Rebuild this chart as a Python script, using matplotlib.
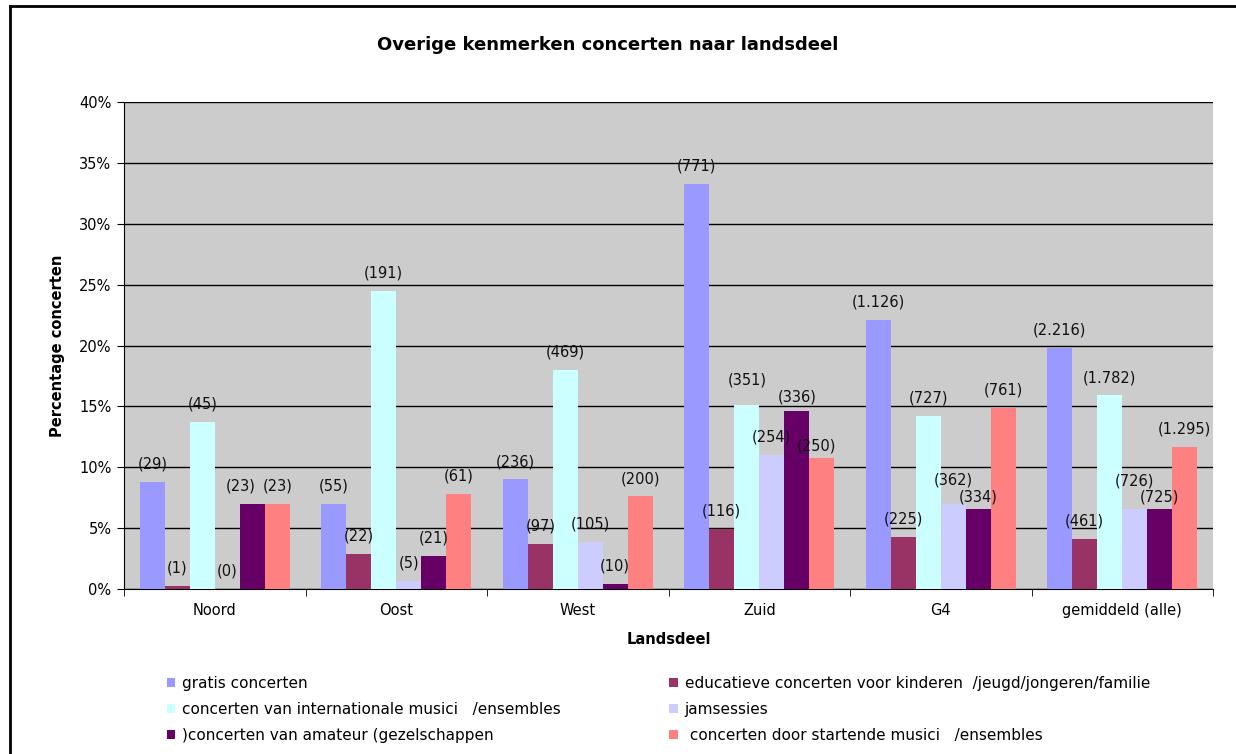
import numpy as np
import matplotlib
matplotlib.use("Agg")
import matplotlib.pyplot as plt
from matplotlib.lines import Line2D
from matplotlib.patches import Patch

plt.rcParams['font.family'] = ['DejaVu Sans']

regios = ['Noord', 'Oost', 'West', 'Zuid', 'G4', 'gemiddeld (alle)']

series = [
    'gratis concerten',
    'educatieve concerten voor kinderen  /jeugd/jongeren/familie',
    'concerten van internationale musici   /ensembles',
    'jamsessies',
    ')concerten van amateur (gezelschappen',
    ' concerten door startende musici   /ensembles',
]
kleuren = ['#9999FF', '#993366', '#CCFFFF', '#CCCCFF', '#660066', '#FF8080']

# percentages per landsdeel, een rij per soort concert
pct = [
    [8.8, 7.0, 9.0, 33.3, 22.1, 19.8],
    [0.25, 2.9, 3.7, 4.9, 4.3, 4.1],
    [13.7, 24.5, 18.0, 15.1, 14.2, 15.9],
    [0.0, 0.65, 3.9, 11.0, 7.0, 6.6],
    [7.0, 2.7, 0.4, 14.6, 6.6, 6.6],
    [7.0, 7.8, 7.6, 10.8, 14.9, 11.7],
]
# aantallen concerten (tussen haakjes boven de staven)
aantallen = [
    ['29', '55', '236', '771', '1.126', '2.216'],
    ['1', '22', '97', '116', '225', '461'],
    ['45', '191', '469', '351', '727', '1.782'],
    ['0', '5', '105', '254', '362', '726'],
    ['23', '21', '10', '336', '334', '725'],
    ['23', '61', '200', '250', '761', '1.295'],
]

# labels die elkaar anders raken wat verschuiven: (serie, regio) -> (dx, dy) in punten
verschuif = {
    (4, 0): (-8, 0),
    (2, 3): (0, 5),
    (4, 3): (0, -3),
    (5, 3): (-4, -4.5),
    (3, 4): (0, 4.5),
    (4, 4): (0, -4.5),
    (3, 5): (0, 7),
    (4, 5): (0, -4.5),
}

W, H = 1236, 754
fig = plt.figure(figsize=(W / 100, H / 100), dpi=100)
fig.patch.set_facecolor('white')

ax = fig.add_axes([124 / W, (H - 589) / H, (1213 - 124) / W, 487 / H])
ax.set_facecolor('#CCCCCC')

x = np.arange(len(regios))
bw = 0.1377
for i in range(len(series)):
    pos = x + (i - 2.5) * bw
    bars = ax.bar(pos, pct[i], width=bw, color=kleuren[i], edgecolor='none', zorder=3)
    for j, (b, n) in enumerate(zip(bars, aantallen[i])):
        dx, dy = verschuif.get((i, j), (0, 0))
        ax.annotate('(%s)' % n, (b.get_x() + b.get_width() / 2, b.get_height()),
                    xytext=(dx, 7.5 + dy), textcoords='offset points',
                    ha='center', va='bottom', fontsize=10.5, color='#111111', zorder=4)

ax.set_xlim(-0.5, len(regios) - 0.5)
ax.set_ylim(0, 40)
ax.set_yticks(np.arange(0, 41, 5))
ax.set_yticklabels(['%d%%' % v for v in range(0, 41, 5)], fontsize=10.5)
ax.yaxis.grid(True, color='black', linewidth=1, zorder=1)
ax.set_axisbelow(True)

ax.set_xticks(x)
ax.set_xticklabels(regios, fontsize=10.5)
ax.set_xticks(np.arange(-0.5, len(regios), 1), minor=True)
ax.tick_params(axis='x', which='major', length=0, pad=10)
ax.tick_params(axis='x', which='minor', length=5, direction='out', color='black')
ax.tick_params(axis='y', length=5, direction='out', color='black', pad=4)

for s in ['top', 'right']:
    ax.spines[s].set_visible(False)
ax.spines['left'].set_color('black')
ax.spines['bottom'].set_color('black')

ax.set_ylabel('Percentage concerten', fontsize=10.5, fontweight='bold', labelpad=10)
ax.set_xlabel('Landsdeel', fontsize=10.5, fontweight='bold', labelpad=10)

fig.text(608 / W, 1 - 45 / H, 'Overige kenmerken concerten naar landsdeel',
         ha='center', va='center', fontsize=13, fontweight='bold')

# legenda: rijgewijs vullen, matplotlib vult kolomsgewijs
volgorde = [0, 2, 4, 1, 3, 5]
handles = [Patch(facecolor=kleuren[i], edgecolor='none') for i in volgorde]
labels = [series[i] for i in volgorde]
fig.legend(handles, labels, ncol=2, loc='upper left',
           bbox_to_anchor=(153 / W, 1 - 662 / H), frameon=False,
           fontsize=11, handlelength=0.55, handleheight=0.55, handletextpad=0.45,
           labelspacing=0.72, columnspacing=7.1)

# kader rond de figuur
fig.add_artist(Line2D([10 / W, 10 / W], [0, 1 - 6 / H], color='black', linewidth=2,
                      transform=fig.transFigure))
fig.add_artist(Line2D([10 / W, 1], [1 - 6 / H, 1 - 6 / H], color='black', linewidth=2,
                      transform=fig.transFigure))

fig.savefig('out.png', dpi=100)
